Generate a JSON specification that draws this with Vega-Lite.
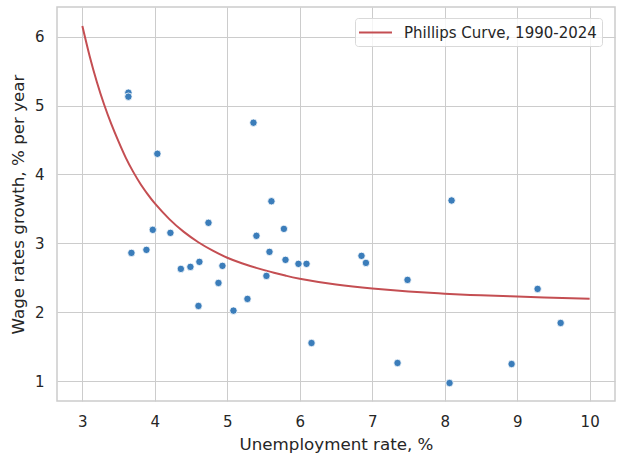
{
  "$schema": "https://vega.github.io/schema/vega-lite/v6.json",
  "width": 558,
  "height": 394,
  "autosize": {"type": "none"},
  "padding": {"left": 57, "top": 7, "right": 8, "bottom": 62},
  "background": "white",
  "config": {
    "font": "DejaVu Sans",
    "view": {"stroke": "#cccccc", "strokeWidth": 1.5},
    "axis": {
      "grid": true,
      "gridColor": "#cccccc",
      "gridWidth": 1,
      "domain": false,
      "ticks": false,
      "labelFontSize": 15,
      "labelColor": "#262626",
      "titleFontSize": 16.7,
      "titleColor": "#262626",
      "titleFontWeight": "normal"
    },
    "legend": {
      "orient": "none",
      "legendX": 298,
      "legendY": 11,
      "padding": 5,
      "strokeColor": "#d9d9d9",
      "cornerRadius": 3,
      "fillColor": "rgba(255,255,255,0.8)",
      "symbolType": "M-2,0H2",
      "symbolSize": 272,
      "symbolStrokeWidth": 2,
      "symbolOffset": 6,
      "labelFontSize": 15,
      "labelColor": "#262626",
      "labelOffset": 19,
      "labelLimit": 400
    }
  },
  "datasets": {
    "points": [
      {"u": 3.677, "w": 2.860}, {"u": 3.884, "w": 2.904}, {"u": 3.972, "w": 3.195},
      {"u": 4.215, "w": 3.151}, {"u": 4.740, "w": 3.297}, {"u": 4.359, "w": 2.628},
      {"u": 4.491, "w": 2.657}, {"u": 4.615, "w": 2.730}, {"u": 4.933, "w": 2.672},
      {"u": 4.878, "w": 2.424}, {"u": 4.602, "w": 2.090}, {"u": 5.085, "w": 2.022},
      {"u": 5.278, "w": 2.192}, {"u": 5.402, "w": 3.108}, {"u": 5.582, "w": 2.875},
      {"u": 5.540, "w": 2.526}, {"u": 5.781, "w": 3.209}, {"u": 5.803, "w": 2.759},
      {"u": 5.982, "w": 2.701}, {"u": 6.093, "w": 2.701}, {"u": 6.162, "w": 1.552},
      {"u": 5.609, "w": 3.610}, {"u": 3.635, "w": 5.186}, {"u": 3.635, "w": 5.128},
      {"u": 4.035, "w": 4.299}, {"u": 5.361, "w": 4.750}, {"u": 6.852, "w": 2.817},
      {"u": 6.913, "w": 2.715}, {"u": 7.487, "w": 2.468}, {"u": 7.349, "w": 1.262},
      {"u": 8.067, "w": 0.971}, {"u": 8.095, "w": 3.621}, {"u": 8.923, "w": 1.247},
      {"u": 9.282, "w": 2.337}, {"u": 9.600, "w": 1.843}
    ],
    "curve": [
      {"u": 3.0, "w": 6.154}, {"u": 3.1, "w": 5.719}, {"u": 3.2, "w": 5.342},
      {"u": 3.3, "w": 5.015}, {"u": 3.4, "w": 4.73}, {"u": 3.5, "w": 4.475},
      {"u": 3.6, "w": 4.24}, {"u": 3.7, "w": 4.04}, {"u": 3.8, "w": 3.865},
      {"u": 3.9, "w": 3.713}, {"u": 4.0, "w": 3.578}, {"u": 4.2, "w": 3.35},
      {"u": 4.4, "w": 3.165}, {"u": 4.6, "w": 3.015}, {"u": 4.8, "w": 2.893},
      {"u": 5.0, "w": 2.79}, {"u": 5.2, "w": 2.71}, {"u": 5.4, "w": 2.643},
      {"u": 5.6, "w": 2.585}, {"u": 5.8, "w": 2.532}, {"u": 6.0, "w": 2.485},
      {"u": 6.5, "w": 2.40}, {"u": 7.0, "w": 2.342}, {"u": 7.5, "w": 2.30},
      {"u": 8.0, "w": 2.268}, {"u": 8.5, "w": 2.244}, {"u": 9.0, "w": 2.226},
      {"u": 9.5, "w": 2.21}, {"u": 10.0, "w": 2.196}
    ]
  },
  "encoding": {
    "x": {
      "field": "u",
      "type": "quantitative",
      "scale": {"domain": [2.65, 10.35], "nice": false, "zero": false},
      "axis": {"title": "Unemployment rate, %", "values": [3, 4, 5, 6, 7, 8, 9, 10], "labelPadding": 13, "titlePadding": 7}
    },
    "y": {
      "field": "w",
      "type": "quantitative",
      "scale": {"domain": [0.71, 6.43], "nice": false, "zero": false},
      "axis": {"title": "Wage rates growth, % per year", "values": [1, 2, 3, 4, 5, 6], "labelPadding": 13, "titlePadding": 7}
    }
  },
  "layer": [
    {
      "data": {"name": "curve"},
      "mark": {"type": "line", "interpolate": "natural", "strokeWidth": 2},
      "encoding": {
        "color": {
          "datum": "Phillips Curve, 1990-2024",
          "type": "nominal",
          "scale": {"range": ["#c44e52"]},
          "legend": {"title": null}
        }
      }
    },
    {
      "data": {"name": "points"},
      "mark": {"type": "circle", "size": 55, "fill": "#3b7dba", "stroke": "white", "strokeWidth": 0.8, "opacity": 1}
    }
  ]
}
